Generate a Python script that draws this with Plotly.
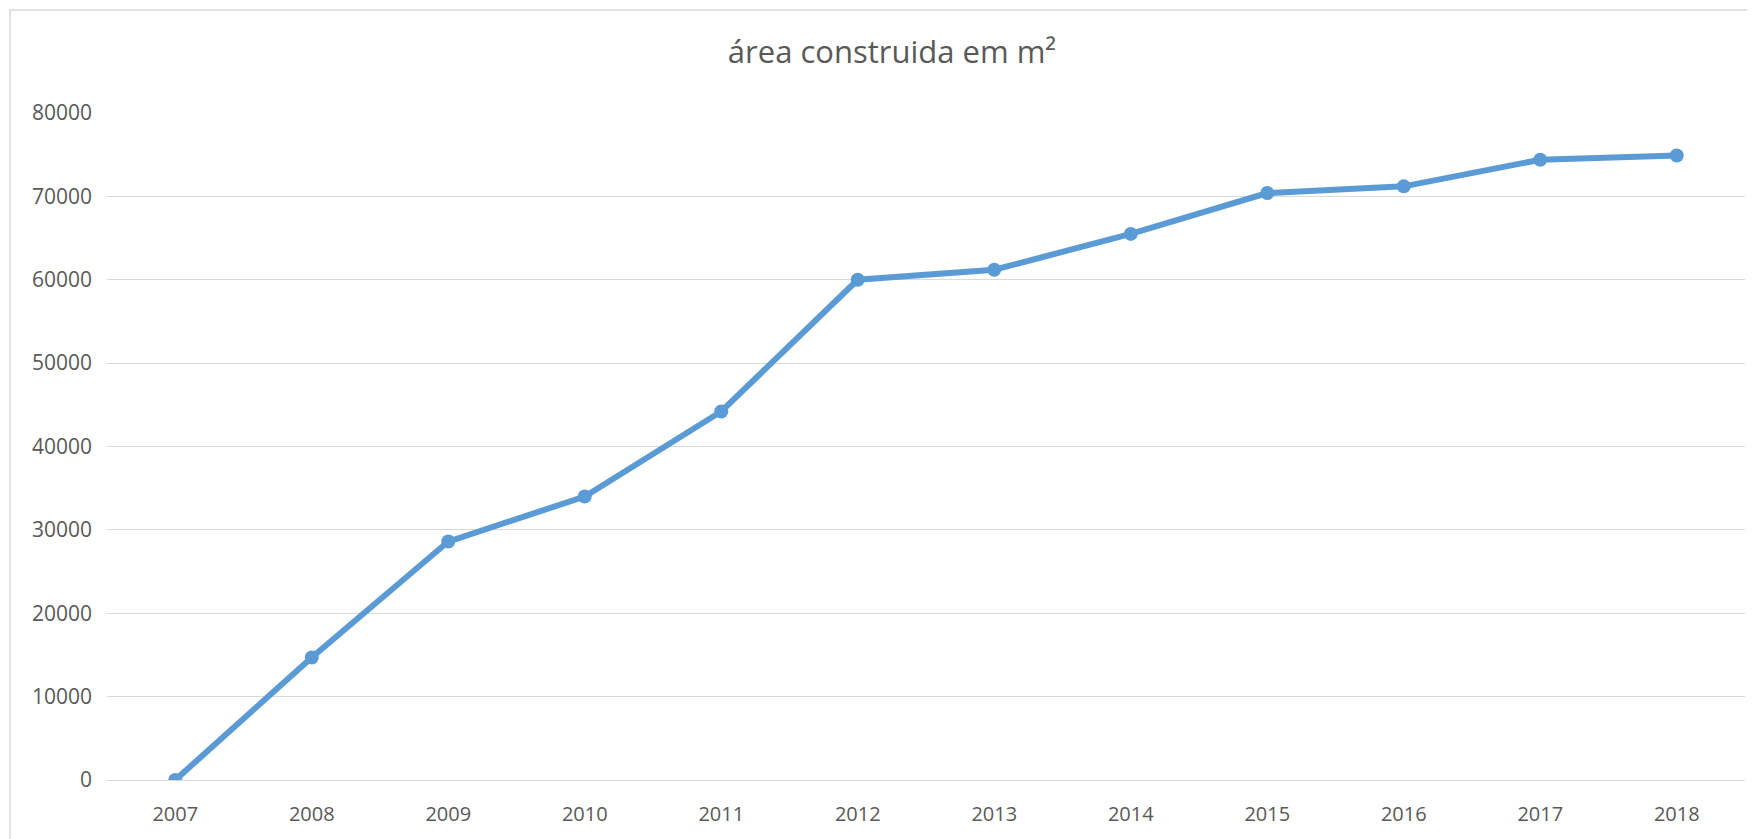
import plotly.graph_objects as go

years = ["2007", "2008", "2009", "2010", "2011", "2012",
         "2013", "2014", "2015", "2016", "2017", "2018"]
area_m2 = [0, 14700, 28600, 34000, 44200, 60000,
           61200, 65500, 70400, 71200, 74400, 74900]
y_ticks = [0, 10000, 20000, 30000, 40000, 50000, 60000, 70000, 80000]
y_tick_labels = ["0", "10000", "20000", "30000", "40000", "50000", "60000", "70000", "80000"]

TXT = "#595959"
GRID = "#d9d9d9"
BLUE = "#5B9BD5"

W, H = 1747, 831

fig = go.Figure()
fig.add_trace(go.Scatter(
    x=years, y=area_m2, mode="lines+markers",
    line=dict(color=BLUE, width=6),
    marker=dict(color=BLUE, size=14),
    showlegend=False, hoverinfo="x+y",
))

fig.update_layout(
    width=W, height=H,
    margin=dict(l=99, r=10, t=105, b=59),
    paper_bgcolor="white", plot_bgcolor="white",
    title=dict(text="área construida em m²", x=884 / W, xref="container",
               xanchor="center", y=1 - 44 / H, yanchor="middle",
               font=dict(family="Open Sans", size=31, color=TXT)),
    xaxis=dict(type="category", range=[-0.5, len(years) - 0.5],
               showgrid=False, zeroline=False,
               showline=True, linecolor=GRID, linewidth=1,
               ticks="", ticklabelstandoff=16,
               tickfont=dict(family="Open Sans", size=20, color=TXT)),
    yaxis=dict(range=[0, 80000], tickvals=y_ticks, ticktext=y_tick_labels,
               showgrid=True, gridcolor=GRID, gridwidth=1,
               zeroline=False, showline=False,
               ticks="", ticklabelstandoff=14,
               tickfont=dict(family="Open Sans", size=21, color=TXT)),
    shapes=[dict(type="rect", xref="paper", yref="paper",
                 x0=(2 - 99) / 1638, x1=1.1, y0=-0.3, y1=1 + (105 - 2) / 667,
                 line=dict(color=GRID, width=1.5), fillcolor="rgba(0,0,0,0)",
                 layer="below")],
)

fig.write_html("out.html")
